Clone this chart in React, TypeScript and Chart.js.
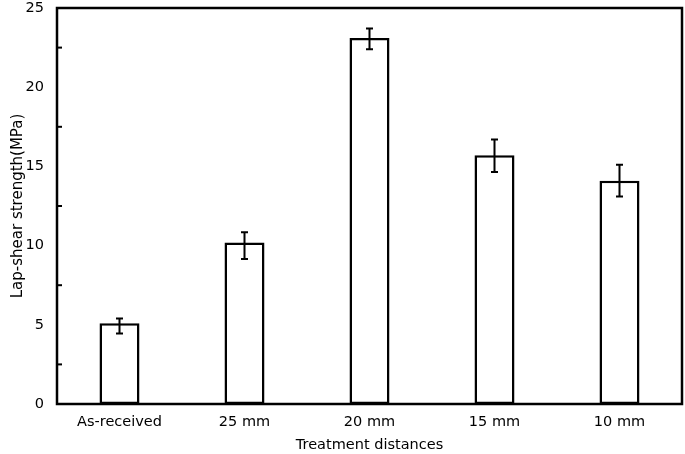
import React, { useEffect, useRef } from "react";
import { Chart, registerables } from "chart.js";

Chart.register(...registerables);

const categories = ["As-received", "25 mm", "20 mm", "15 mm", "10 mm"];
const strengthMean = [5.1, 10.2, 23.1, 15.7, 14.1];
const strengthLow = [4.45, 9.15, 22.4, 14.65, 13.1];
const strengthHigh = [5.4, 10.85, 23.7, 16.7, 15.1];
const yMin = 0;
const yMax = 25;
const yStep = 5;
const minorTicks = [2.5, 7.5, 12.5, 17.5, 22.5];

const FONT = "'DejaVu Sans', 'Liberation Sans', Arial, sans-serif";

const framePlugin = {
  id: "frameAndErrors",
  afterDatasetsDraw(chart: any) {
    const { ctx, chartArea, scales } = chart;
    const y = scales.y;
    const meta = chart.getDatasetMeta(0);
    ctx.save();
    // error bars
    ctx.strokeStyle = "#000";
    ctx.lineWidth = 2;
    meta.data.forEach((bar: any, i: number) => {
      const x = bar.x;
      const yl = y.getPixelForValue(strengthLow[i]);
      const yh = y.getPixelForValue(strengthHigh[i]);
      ctx.beginPath();
      ctx.moveTo(x, yl);
      ctx.lineTo(x, yh);
      ctx.moveTo(x - 3.5, yl);
      ctx.lineTo(x + 3.5, yl);
      ctx.moveTo(x - 3.5, yh);
      ctx.lineTo(x + 3.5, yh);
      ctx.stroke();
    });
    // minor ticks on left axis (inside)
    ctx.lineWidth = 2;
    minorTicks.forEach((v) => {
      const py = y.getPixelForValue(v);
      ctx.beginPath();
      ctx.moveTo(chartArea.left, py);
      ctx.lineTo(chartArea.left + 5, py);
      ctx.stroke();
    });
    // frame
    ctx.lineWidth = 2.5;
    ctx.strokeRect(
      chartArea.left,
      chartArea.top,
      chartArea.right - chartArea.left,
      chartArea.bottom - chartArea.top
    );
    ctx.restore();
  },
};

export default function App() {
  const ref = useRef<HTMLCanvasElement | null>(null);
  useEffect(() => {
    if (!ref.current) return;
    const chart = new Chart(ref.current, {
      type: "bar",
      data: {
        labels: categories,
        datasets: [
          {
            data: strengthMean,
            backgroundColor: "#ffffff",
            borderColor: "#000000",
            borderWidth: 2.5,
            borderSkipped: false,
            categoryPercentage: 1,
            barPercentage: 0.32,
          },
        ],
      },
      options: {
        animation: false,
        responsive: false,
        maintainAspectRatio: false,
        layout: { padding: { left: 0, right: 3, top: 8, bottom: 0 } },
        plugins: {
          legend: { display: false },
          tooltip: { enabled: false },
        },
        scales: {
          x: {
            grid: { display: false, drawTicks: true, tickLength: 10 },
            border: { display: false },
            ticks: {
              color: "#000",
              padding: 0,
              font: { family: FONT, size: 14.5 },
              maxRotation: 0,
            },
            title: {
              display: true,
              text: "Treatment distances",
              color: "#000",
              font: { family: FONT, size: 14.5, lineHeight: 1.2 },
              padding: { top: 0, bottom: 0 },
            },
            afterFit(scale: any) {
              scale.height = 50;
            },
          },
          y: {
            min: yMin,
            max: yMax,
            grid: { display: false, drawTicks: true, tickLength: 13 },
            border: { display: false },
            ticks: {
              stepSize: yStep,
              color: "#000",
              padding: 0,
              font: { family: FONT, size: 14.5, lineHeight: 1 },
            },
            title: {
              display: true,
              text: "Lap-shear strength(MPa)",
              color: "#000",
              font: { family: FONT, size: 15, lineHeight: 1.2 },
              padding: { top: 9, bottom: 0 },
            },
            afterFit(scale: any) {
              scale.width = 57;
            },
          },
        },
      },
      plugins: [framePlugin],
    });
    return () => chart.destroy();
  }, []);
  return (
    <div style={{ position: "absolute", left: 0, top: 0, width: 685, height: 454, background: "#fff" }}>
      <canvas ref={ref} width={685} height={454} style={{ width: 685, height: 454 }} />
    </div>
  );
}
